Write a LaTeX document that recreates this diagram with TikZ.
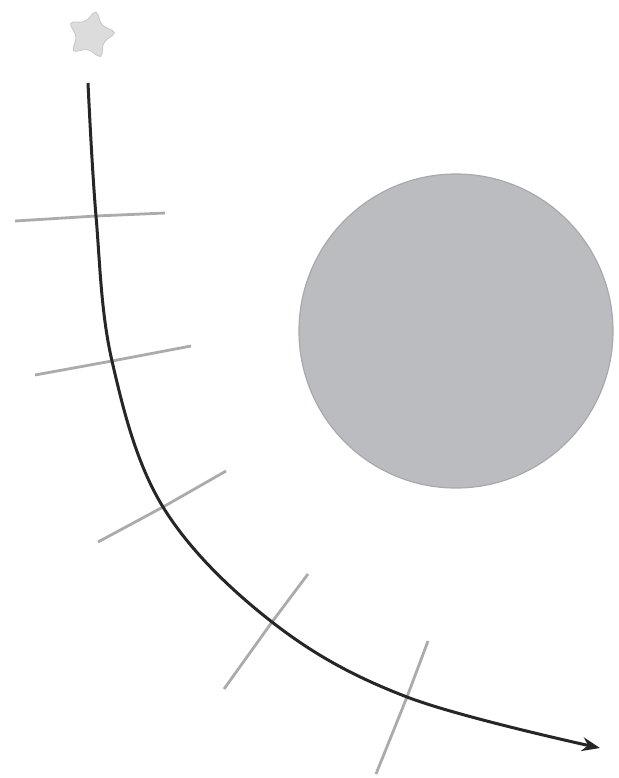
\documentclass[tikz,border=0pt]{standalone}
\usepackage{tikz}
\usetikzlibrary{arrows.meta,shapes.geometric}

\definecolor{planet}{HTML}{BBBCBF}
\definecolor{planetrim}{HTML}{A8A9AC}
\definecolor{tickgray}{HTML}{ABABAB}
\definecolor{stargray}{HTML}{DCDCDC}

\tikzset{
  path/.style={line width=1.5pt, black!85, -{Stealth[length=9pt,width=7pt]}},
  tickline/.style={line width=1.4pt, tickgray},
}

\begin{document}
\begin{tikzpicture}[x=0.5pt,y=-0.5pt]
		\useasboundingbox (0,0) rectangle (618,778);

		% the star at the top, where the path starts
		\node[star, star points=5, star point ratio=1.85, minimum size=26pt,
		      fill=stargray, draw=gray!45, rounded corners=2.5pt, rotate=-12] (star) at (91,35) {};

		% the big mass
		\filldraw[fill=planet, draw=planetrim, line width=0.6pt] (456,331) circle (157);
				
		% points where the ticks cross the path
		\coordinate (c1) at (96,216);
		\coordinate (c2) at (112,361);
		\coordinate (c3) at (163,507);
		\coordinate (c4) at (272,622);
		\coordinate (c5) at (407,697);

		% gray ticks across the path
		\draw[tickline] (15,221) -- (c1) -- (165,213);
		\draw[tickline] (35,375) -- (c2) -- (191,346);
		\draw[tickline] (98,542) -- (c3) -- (226,471);
		\draw[tickline] (224,689) -- (c4) -- (308,574);
		\draw[tickline] (376,774) -- (c5) -- (428,641);

		% the bent path with its arrow
		\draw[path] plot[smooth, tension=0.6] coordinates {(88,83) (c1) (c2) (c3) (c4) (c5) (600,748)};
	\end{tikzpicture}
\end{document}
